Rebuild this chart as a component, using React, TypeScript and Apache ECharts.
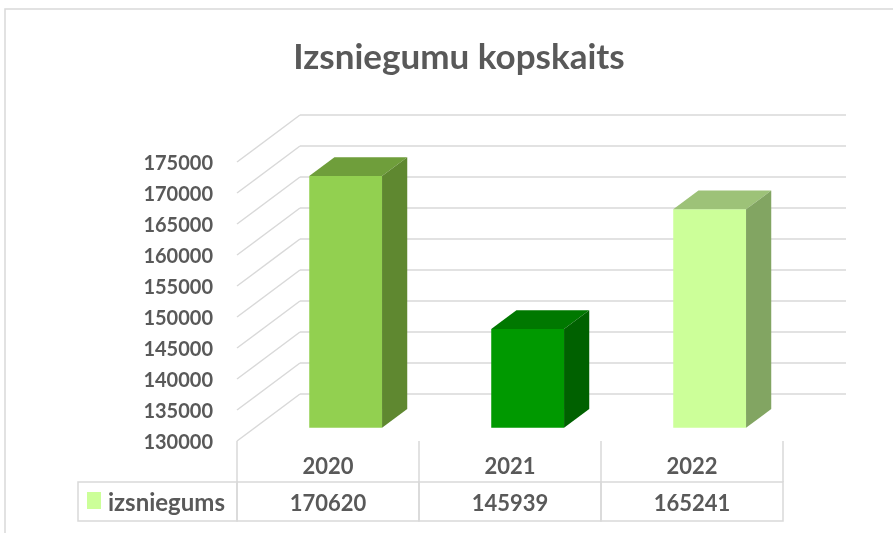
import React, { useEffect, useRef } from "react";
import * as echarts from "echarts";

const chartTitle = "Izsniegumu kopskaits";
const seriesName = "izsniegums";
const years = ["2020", "2021", "2022"];
const values = [170620, 145939, 165241];
const yTicks = [130000, 135000, 140000, 145000, 150000, 155000, 160000, 165000, 170000, 175000];
const Y_MIN = 130000;
const Y_MAX = 175000;
const Y_STEP = 5000;

const frontColors = ["#92D050", "#009900", "#CCFF99"];
const topColors = ["#6F9E3B", "#007800", "#9DC278"];
const sideColors = ["#5F8830", "#006100", "#82A562"];
const legendColor = "#CCFF99";

const TEXT = "#595959";
const GRID = "#D9D9D9";
const FONT = "Lato";
// depth of the 3D floor in pixels
const DX = 63;
const DY = -47;
const F0 = 0.28; // depth where the bar front sits
const F1 = 0.68; // depth where the bar back sits

export default function App() {
  const ref = useRef<HTMLDivElement>(null);
  useEffect(() => {
    if (!ref.current) return;
    const chart = echarts.init(ref.current, null, { renderer: "svg" });

    const gridSeries = {
      type: "custom",
      z: 1,
      silent: true,
      data: yTicks.map((v) => [0, v]),
      renderItem: (params: any, api: any) => {
        const cs = params.coordSys;
        const p = api.coord([0, api.value(1)]);
        const x0 = cs.x;
        const y = p[1];
        return {
          type: "group",
          children: [
            {
              type: "line",
              shape: { x1: x0, y1: y, x2: x0 + DX, y2: y + DY },
              style: { stroke: GRID, lineWidth: 1.5 },
            },
            {
              type: "line",
              shape: { x1: x0 + DX, y1: y + DY, x2: x0 + cs.width + DX, y2: y + DY },
              style: { stroke: GRID, lineWidth: 1.5 },
            },
          ],
        };
      },
    };

    const barSeries = {
      type: "custom",
      name: seriesName,
      z: 3,
      data: values.map((v, i) => [i, v]),
      renderItem: (params: any, api: any) => {
        const i = api.value(0);
        const v = api.value(1);
        const top = api.coord([i, v]);
        const base = api.coord([i, Y_MIN]);
        const band = api.size([1, 0])[0];
        const w = band * 0.4;
        const x1 = top[0] + F0 * DX - w / 2;
        const x2 = x1 + w;
        const yTop = top[1] + F0 * DY;
        const yBot = base[1] + F0 * DY;
        const ddx = (F1 - F0) * DX;
        const ddy = (F1 - F0) * DY;
        const idx = params.dataIndex;
        return {
          type: "group",
          children: [
            {
              type: "rect",
              shape: { x: x1, y: yTop, width: w, height: yBot - yTop },
              style: { fill: frontColors[idx] },
            },
            {
              type: "polygon",
              shape: {
                points: [
                  [x1, yTop],
                  [x2, yTop],
                  [x2 + ddx, yTop + ddy],
                  [x1 + ddx, yTop + ddy],
                ],
              },
              style: { fill: topColors[idx] },
            },
            {
              type: "polygon",
              shape: {
                points: [
                  [x2, yTop],
                  [x2 + ddx, yTop + ddy],
                  [x2 + ddx, yBot + ddy],
                  [x2, yBot],
                ],
              },
              style: { fill: sideColors[idx] },
            },
          ],
        };
      },
    };

    const tableSeries = {
      type: "custom",
      z: 2,
      silent: true,
      data: values.map((v, i) => [i, v]),
      renderItem: (params: any, api: any) => {
        const cs = params.coordSys;
        const i = api.value(0);
        const v = api.value(1);
        const c = api.coord([i, Y_MIN]);
        const band = api.size([1, 0])[0];
        const rowTop = cs.y + cs.height + 41;
        const rowH = 39;
        const left = c[0] - band / 2;
        const children: any[] = [
          {
            type: "rect",
            shape: { x: left, y: rowTop, width: band, height: rowH },
            style: { fill: "none", stroke: GRID, lineWidth: 1.5 },
          },
          {
            type: "text",
            style: {
              text: String(v),
              x: c[0],
              y: rowTop + rowH / 2 + 1,
              align: "center",
              verticalAlign: "middle",
              fontSize: 22,
              fontWeight: "bold",
              fontFamily: FONT,
              fill: TEXT,
            },
          },
        ];
        if (params.dataIndex === 0) {
          const hx = 78;
          children.push(
            {
              type: "rect",
              shape: { x: hx, y: rowTop, width: left - hx, height: rowH },
              style: { fill: "none", stroke: GRID, lineWidth: 1.5 },
            },
            {
              type: "rect",
              shape: { x: 87, y: rowTop + 10, width: 14, height: 17 },
              style: { fill: legendColor },
            },
            {
              type: "text",
              style: {
                text: seriesName,
                x: 108,
                y: rowTop + rowH / 2,
                align: "left",
                verticalAlign: "middle",
                fontSize: 24,
                fontWeight: "bold",
                fontFamily: FONT,
                fill: TEXT,
              },
            }
          );
        }
        return { type: "group", children };
      },
    };

    chart.setOption({
      animation: false,
      graphic: [
        {
          type: "rect",
          z: -10,
          shape: { x: 5, y: 9, width: 900, height: 540 },
          style: { fill: "#ffffff", stroke: GRID, lineWidth: 1.5 },
        },
        {
          type: "text",
          z: 10,
          style: {
            text: chartTitle,
            x: 459,
            y: 55,
            align: "center",
            verticalAlign: "middle",
            fontSize: 35,
            fontWeight: "bold",
            fontFamily: FONT,
            fill: TEXT,
          },
        },
      ],
      grid: { left: 237, right: 110, top: 162, bottom: 92, containLabel: false },
      xAxis: {
        type: "category",
        data: years,
        boundaryGap: true,
        axisLine: { show: false },
        axisTick: {
          show: true,
          interval: 0,
          alignWithLabel: false,
          length: 41,
          lineStyle: { color: GRID, width: 1.5 },
        },
        axisLabel: {
          interval: 0,
          margin: 13,
          fontSize: 22,
          fontWeight: "bold",
          fontFamily: FONT,
          color: TEXT,
        },
        splitLine: { show: false },
      },
      yAxis: {
        type: "value",
        min: Y_MIN,
        max: Y_MAX,
        interval: Y_STEP,
        axisLine: { show: false },
        axisTick: { show: false },
        splitLine: { show: false },
        axisLabel: {
          margin: 24,
          fontSize: 20,
          fontWeight: "bold",
          fontFamily: FONT,
          color: TEXT,
          formatter: (v: number) => String(v),
        },
      },
      series: [gridSeries, tableSeries, barSeries],
    });
    return () => chart.dispose();
  }, []);
  return (
    <div
      ref={ref}
      style={{ position: "fixed", left: 0, top: 0, width: 893, height: 533 }}
    />
  );
}
